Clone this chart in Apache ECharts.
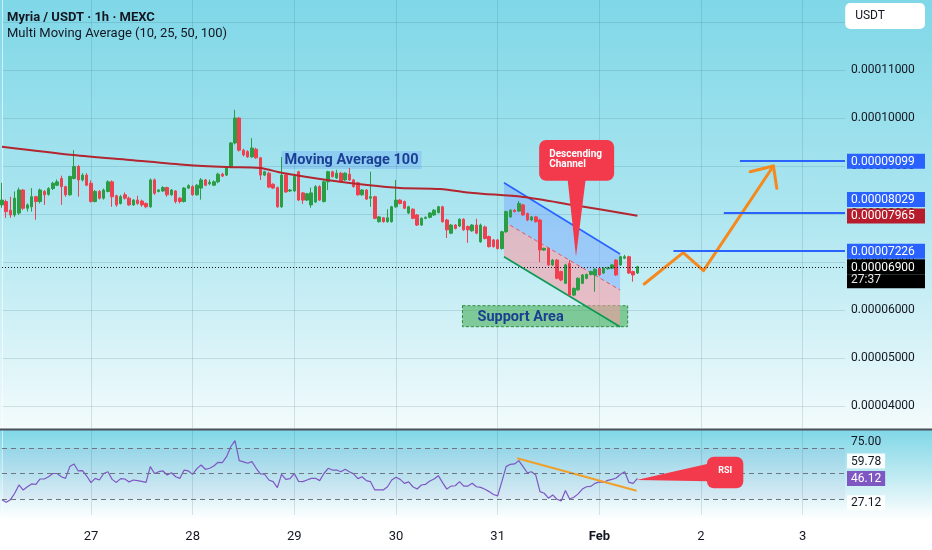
<!DOCTYPE html>
<html>
<head>
<meta charset="utf-8">
<script src="https://cdn.jsdelivr.net/npm/echarts@6/dist/echarts.min.js"></script>
<style>html,body{margin:0;padding:0;background:#fff}#chart{width:932px;height:550px}</style>
</head>
<body>
<div id="chart"></div>
<script>
// ---- categories / ticks ----
const slotCount = 200;                       // hourly slots, slot 0 = Jan 26 03:00
const dayStartIdx = [21, 45, 69, 93, 117, 141, 165, 189];
const dayLabels = ['27', '28', '29', '30', '31', 'Feb', '2', '3'];
const priceGridTicks = [4, 5, 6, 7, 8, 9, 10, 11, 12];   // ×1e-5 USDT
const priceLabelTicks = [4, 5, 6, 7, 8, 9, 10, 11];
const rsiLabelTicks = [75];
const rsiBands = [70, 50, 30];

// ---- candles (price ×1e-5) ----
const open = [8.19,8.26,8.08,7.98,8.02,8.50,8.12,8.15,8.36,8.26,8.47,8.41,8.53,8.60,8.74,8.57,8.40,8.74,8.99,8.71,
8.81,8.64,8.26,8.47,8.33,8.47,8.67,8.38,8.22,8.40,8.33,8.19,8.29,8.27,8.22,8.15,8.71,8.47,8.48,8.55,
8.40,8.48,8.33,8.26,8.54,8.57,8.40,8.54,8.71,8.63,8.60,8.67,8.83,8.81,8.98,9.48,10.00,9.33,9.30,9.19,
9.35,9.17,8.81,8.85,8.62,8.55,8.15,8.81,8.48,8.48,8.88,8.44,8.29,8.19,8.25,8.57,8.26,8.67,8.88,8.75,
8.85,8.71,8.83,8.71,8.65,8.40,8.50,8.33,8.36,7.84,7.92,7.84,7.84,8.15,8.29,8.26,8.02,8.10,7.98,7.77,
7.91,7.93,7.98,8.03,8.15,7.875,7.60,7.77,7.75,7.89,7.74,7.65,7.77,7.42,7.73,7.53,7.46,7.46,7.28,7.63,
7.94,8.08,8.06,8.19,8.01,7.875,7.94,7.875,7.25,7.285,6.94,7.04,6.80,6.556,6.97,6.31,6.42,6.556,6.66,6.74,
6.73,6.87,6.77,6.86,6.87,7.04,6.94,7.08,7.11,6.80,6.77];
const close = [8.29,8.05,7.98,8.33,8.50,8.12,8.19,8.36,8.26,8.50,8.40,8.53,8.64,8.67,8.57,8.40,8.78,8.99,8.71,8.81,
8.60,8.26,8.47,8.33,8.50,8.67,8.36,8.19,8.36,8.33,8.19,8.29,8.22,8.19,8.15,8.71,8.43,8.50,8.55,8.40,
8.50,8.26,8.26,8.54,8.59,8.40,8.60,8.71,8.60,8.66,8.67,8.83,8.79,8.98,9.48,10.00,9.33,9.23,9.19,9.375,
9.17,8.81,8.88,8.56,8.54,8.15,8.81,8.46,8.50,8.78,8.29,8.29,8.42,8.44,8.57,8.29,8.67,8.88,8.78,8.85,
8.67,8.85,8.71,8.57,8.40,8.50,8.31,8.36,7.91,7.94,7.84,7.92,8.15,8.29,8.22,8.12,8.15,7.91,7.77,7.91,
7.93,8.02,8.08,8.15,7.84,7.67,7.77,7.70,7.89,7.67,7.67,7.77,7.60,7.77,7.49,7.32,7.32,7.28,7.63,8.05,
8.08,8.05,8.22,7.98,7.875,7.94,7.84,7.25,7.285,6.94,7.04,6.66,6.625,6.94,6.31,6.45,6.66,6.73,6.74,6.80,
6.85,6.73,6.87,6.88,6.94,6.73,7.11,7.11,6.77,6.73,6.90];
const low = [8.13,7.92,7.92,7.94,7.98,8.08,8.05,8.05,7.88,8.22,8.19,8.38,8.50,8.58,8.19,8.36,8.38,8.72,8.36,8.68,
8.58,8.24,8.24,8.30,8.30,8.45,8.15,8.15,8.20,8.30,8.17,8.17,8.19,8.15,8.12,8.13,8.40,8.45,8.46,8.36,
8.38,8.22,8.22,8.24,8.52,8.38,8.38,8.30,8.58,8.60,8.58,8.64,8.77,8.79,8.96,9.45,9.30,9.20,9.17,9.17,
9.15,8.71,8.79,8.54,8.52,8.13,8.13,8.44,8.46,8.46,8.27,8.21,8.27,8.13,8.23,8.27,8.24,8.50,8.76,8.73,
8.65,8.69,8.69,8.55,8.38,8.38,8.29,8.15,7.89,7.82,7.82,7.82,7.82,8.13,8.20,8.10,8.00,7.89,7.75,7.75,
7.89,7.91,7.96,8.01,7.82,7.50,7.58,7.68,7.73,7.65,7.40,7.63,7.58,7.40,7.47,7.30,7.30,7.26,7.26,7.61,
7.92,8.03,8.04,7.96,7.85,7.85,7.82,7.00,7.23,6.92,6.92,6.64,6.60,6.54,6.29,6.29,6.40,6.54,6.64,6.72,
6.38,6.71,6.75,6.84,6.85,6.71,6.92,7.06,6.75,6.59,6.75];
const high = [8.65,8.30,8.36,8.47,8.55,8.52,8.22,8.54,8.38,8.53,8.50,8.56,8.67,8.72,8.80,8.59,8.80,9.33,9.02,8.85,
8.85,8.70,8.50,8.50,8.53,8.70,8.70,8.40,8.40,8.45,8.36,8.31,8.38,8.30,8.24,8.74,8.74,8.52,8.58,8.57,
8.52,8.50,8.35,8.56,8.62,8.60,8.62,8.75,8.73,8.72,8.70,8.86,8.86,9.00,9.50,10.17,10.02,9.36,9.33,9.58,
9.38,9.19,8.90,8.88,8.64,8.57,9.19,8.83,8.52,8.80,8.90,8.46,8.44,8.55,8.60,8.60,8.70,8.90,8.90,8.92,
8.88,8.87,8.96,8.73,8.67,8.52,8.52,8.88,8.38,7.96,7.94,8.10,8.17,8.71,8.31,8.28,8.17,8.12,8.00,7.93,
7.95,8.04,8.10,8.17,8.17,7.90,7.79,7.79,7.91,7.91,7.76,7.79,7.90,7.80,7.76,7.55,7.48,7.48,7.65,8.07,
8.10,8.10,8.27,8.21,8.03,7.96,7.96,7.90,7.30,7.30,7.06,7.06,6.82,6.96,7.04,6.47,6.68,6.75,6.76,6.82,
6.87,6.89,6.89,6.90,6.96,7.06,7.13,7.15,7.13,6.82,6.92];

// ---- RSI (14) ----
const rsi = [29.5,27.4,29.5,34.5,41,37,39.6,41.8,41.5,45.7,
45.7,47.5,50,50,47.5,46.2,55.4,57.5,52,52.2,
48,42.8,46.2,44.9,50,51.4,45.4,43,46,45.7,
43.4,44.9,44.4,43.8,43,55.4,50,51.4,52,48.8,
50.6,47.5,46.2,52.7,52,49.3,53.8,56.7,53.3,54.1,
55.9,58.8,58.6,63.2,71,75.8,60.1,59.1,58,59.3,
54.1,49.7,49.4,44.9,43.6,38.9,49.4,45.4,46,50,
43.8,43.6,44.9,46.2,46.2,44.4,50,54.1,52.7,52.7,
51.4,53.3,51.4,49.7,46,47.5,44.4,43.6,37.1,37.1,
37.1,39.6,44.9,47,45.4,42.3,43.4,39.6,37.8,41,
41.5,44.1,45.7,48.3,42.8,37.8,40.1,40.4,43.6,40.1,
40.1,42.3,39.6,39.1,37.6,35.8,33.5,32.4,43.6,55.4,
57.2,57.5,60.1,55.4,50.6,51.4,48.8,35.8,34.5,30.6,
33.2,29.8,28.5,36.6,30,31.4,34,37.8,39.6,39.9,
42.3,43.4,43,44.6,45.4,46.5,49.4,51.4,43,42.3,
46.1];
const rsiSideLabels = [59.78, 27.12];
const rsiCurrent = 46.12;

// ---- MA 100 (read points: slot, price) ----
const ma100X = [0, 16.8, 30.2, 43.7, 53.1, 60.9, 66.3, 76.7, 86.2, 94, 103.4, 111.2, 123, 134.8, 150];
const ma100Y = [9.402, 9.229, 9.125, 9.021, 8.979, 8.958, 8.854, 8.708, 8.604, 8.542, 8.521, 8.4375, 8.354, 8.188, 7.965];
const ma100Last = 7.965;
const lastPrice = 6.9;

// ---- drawings ----
const targetLevels = [9.099, 8.029, 7.226];
const targetStartX = [174.2, 170.4, 158.5];
const channelX = [118.5, 145.9];
const channelUpper = [8.652, 7.167];
const channelMid = [7.84, 6.417];
const channelLower = [7.11, 5.652];
const supportX = [108.7, 147.7];
const supportY = [6.09, 5.652];
const pathX = [151.6, 160.8, 165.6, 182.1];
const pathY = [6.542, 7.194, 6.819, 9.0];
const headX = [176.6, 182.1, 182.9];
const headY = [8.881, 9.0, 8.535];
const rsiTrendX = [121.6, 149.8];
const rsiTrendY = [61.9, 36.5];
const calloutBoxX = [126.8, 144.5], calloutBoxY = [9.542, 8.694];
const calloutTip = [135.5, 7.11], calloutBaseX = [133.5, 137.8];
const rsiBoxX = [166.4, 175], rsiBoxY = [63.2, 38.4];
const rsiTip = [149.8, 44.9];

const FONT = 'Roboto, "Noto Sans", sans-serif';
const UP = '#2a9d45', DOWN = '#ef4050';
const GRIDC = 'rgba(45,100,120,0.17)';
const NOLINE = {color: 'rgba(0,0,0,0)', width: 0};
const fmtPrice = v => (v / 1e5).toFixed(8);
const categories = Array.from({length: slotCount}, (_, i) => String(i));
const dayMap = {};
dayStartIdx.forEach((d, k) => dayMap[d] = dayLabels[k]);

function priceLabel(text, bg, fg, shiftUp, width) {
  const a = {backgroundColor: bg, color: fg, padding: [2, 4, 1, 4], fontSize: 12, lineHeight: 16, fontFamily: FONT};
  if (width) a.width = width;
  return {
    show: true, position: 'end', distance: 2,
    formatter: shiftUp ? '{a|' + text + '}\n{e| }' : '{a|' + text + '}',
    rich: {a: a, e: {lineHeight: 26, fontSize: 6}}
  };
}

const chart = echarts.init(document.getElementById('chart'));
const option = {
  animation: false,
  backgroundColor: '#ffffff',
  textStyle: {fontFamily: FONT},
  graphic: [
    {type: 'rect', silent: true, z: -10, shape: {x: 0, y: 0, width: 932, height: 429},
      style: {fill: {type: 'linear', x: 0, y: 0, x2: 0, y2: 1, colorStops: [
        {offset: 0, color: '#7fd7e7'}, {offset: 0.5, color: '#ade6f0'}, {offset: 1, color: '#f3fbfc'}]}}},
    {type: 'rect', silent: true, z: -10, shape: {x: 0, y: 430, width: 932, height: 90},
      style: {fill: {type: 'linear', x: 0, y: 0, x2: 0, y2: 1, colorStops: [
        {offset: 0, color: '#80d7e7'}, {offset: 0.55, color: '#c4ecf3'}, {offset: 1, color: '#ffffff'}]}}},
    {type: 'line', silent: true, z: 100, shape: {x1: 0, y1: 429.5, x2: 932, y2: 429.5},
      style: {stroke: '#4a4f5a', lineWidth: 2}}
  ],
  title: [
    {text: 'Myria / USDT · 1h · MEXC', subtext: 'Multi Moving Average (10, 25, 50, 100)',
      left: 2, top: 6, itemGap: 3,
      textStyle: {fontSize: 13, fontWeight: 'bold', color: '#131722', fontFamily: FONT},
      subtextStyle: {fontSize: 13, color: '#131722', fontFamily: FONT}},
    {text: 'USDT', right: 7, top: 3, backgroundColor: '#ffffff', borderRadius: 5, padding: [7, 40, 7, 10],
      textStyle: {fontSize: 12, fontWeight: 'normal', color: '#131722', fontFamily: FONT}}
  ],
  grid: [
    {left: 2, right: 87, top: 0, bottom: 122},
    {left: 2, right: 87, top: 430, bottom: 35}
  ],
  xAxis: [
    {type: 'category', gridIndex: 0, data: categories, boundaryGap: false,
      axisLine: {show: false}, axisTick: {show: false}, axisLabel: {show: false},
      splitLine: {show: true, interval: i => dayMap[i] !== undefined, lineStyle: {color: GRIDC}}},
    {type: 'value', gridIndex: 0, min: 0, max: slotCount - 1, show: false},
    {type: 'category', gridIndex: 1, data: categories, boundaryGap: false,
      axisLine: {show: false}, axisTick: {show: false},
      axisLabel: {interval: i => dayMap[i] !== undefined, margin: 15, fontSize: 13, color: '#131722',
        formatter: (v, i) => dayMap[i] === 'Feb' ? '{b|Feb}' : (dayMap[i] || ''),
        rich: {b: {fontWeight: 'bold', fontSize: 13, color: '#131722'}}},
      splitLine: {show: true, interval: i => dayMap[i] !== undefined, lineStyle: {color: GRIDC}}},
    {type: 'value', gridIndex: 1, min: 0, max: slotCount - 1, show: false}
  ],
  yAxis: [
    {type: 'value', gridIndex: 0, position: 'right', min: 4 - 22 / 48, max: 4 + 406 / 48,
      axisLine: {show: true, lineStyle: {color: 'rgba(255,255,255,0.6)'}},
      axisTick: {show: false, customValues: priceGridTicks},
      axisLabel: {customValues: priceLabelTicks, formatter: fmtPrice, color: '#131722', fontSize: 12, margin: 6},
      splitLine: {show: true, lineStyle: {color: GRIDC}}},
    {type: 'value', gridIndex: 1, position: 'right', min: 30 - 16 / 1.275, max: 70 + 18 / 1.275,
      axisLine: {show: true, lineStyle: {color: 'rgba(255,255,255,0.6)'}},
      axisTick: {show: false, customValues: rsiLabelTicks},
      axisLabel: {customValues: rsiLabelTicks, formatter: v => v.toFixed(2), color: '#131722', fontSize: 12, margin: 6},
      splitLine: {show: false}}
  ],
  series: [
    {type: 'custom', name: 'support', xAxisIndex: 1, yAxisIndex: 0, z: 1, silent: true, clip: false,
      data: [[0, 0]],
      renderItem: (params, api) => {
        const a = api.coord([supportX[0], supportY[0]]), b = api.coord([supportX[1], supportY[1]]);
        return {type: 'group', children: [
          {type: 'rect', shape: {x: a[0], y: a[1], width: b[0] - a[0], height: b[1] - a[1]},
            style: {fill: 'rgba(60,170,75,0.55)', stroke: '#2e8b3e', lineWidth: 1, lineDash: [3, 2]}},
          {type: 'text', x: a[0] + 15, y: (a[1] + b[1]) / 2 + 1,
            style: {text: 'Support Area', fill: '#1b3f91', fontSize: 14.5, fontWeight: 'bold', fontFamily: FONT,
              align: 'left', verticalAlign: 'middle'}}
        ]};
      }},
    {type: 'custom', name: 'channel', xAxisIndex: 1, yAxisIndex: 0, z: 1, silent: true, clip: false,
      data: [[0, 0]],
      renderItem: (params, api) => {
        const P = (x, y) => api.coord([x, y]);
        const u0 = P(channelX[0], channelUpper[0]), u1 = P(channelX[1], channelUpper[1]);
        const m0 = P(channelX[0], channelMid[0]), m1 = P(channelX[1], channelMid[1]);
        const l0 = P(channelX[0], channelLower[0]), l1 = P(channelX[1], channelLower[1]);
        return {type: 'group', children: [
          {type: 'polygon', shape: {points: [u0, u1, m1, m0]}, style: {fill: 'rgba(120,165,255,0.45)'}},
          {type: 'polygon', shape: {points: [m0, m1, l1, l0]}, style: {fill: 'rgba(255,150,160,0.55)'}},
          {type: 'line', shape: {x1: u0[0], y1: u0[1], x2: u1[0], y2: u1[1]}, style: {stroke: '#2962ff', lineWidth: 1.6}},
          {type: 'line', shape: {x1: m0[0], y1: m0[1], x2: m1[0], y2: m1[1]}, style: {stroke: '#e0566a', lineWidth: 1, lineDash: [4, 3]}},
          {type: 'line', shape: {x1: l0[0], y1: l0[1], x2: l1[0], y2: l1[1]}, style: {stroke: '#0a9a55', lineWidth: 1.6}}
        ]};
      }},
    {type: 'candlestick', name: 'Myria', xAxisIndex: 0, yAxisIndex: 0, z: 2, barWidth: 3,
      data: open.map((o, i) => [o, close[i], low[i], high[i]]),
      itemStyle: {color: UP, color0: DOWN, borderColor: UP, borderColor0: DOWN, borderWidth: 1},
      markLine: {silent: true, symbol: ['none', 'none'],
        data: [{yAxis: lastPrice,
          lineStyle: {type: [1, 2], color: '#131722', width: 1},
          label: {show: true, position: 'end', distance: 2,
            formatter: '{e| }\n{a|' + fmtPrice(lastPrice) + '}\n{b|27:37}',
            rich: {
              e: {lineHeight: 14, fontSize: 6},
              a: {backgroundColor: '#000', color: '#fff', padding: [3, 4, 0, 4], fontSize: 12, lineHeight: 15, width: 70, fontFamily: FONT},
              b: {backgroundColor: '#000', color: '#e6e6e6', padding: [0, 4, 2, 4], fontSize: 12, lineHeight: 14, width: 70, fontFamily: FONT}
            }}}]}},
    {type: 'line', name: 'MA100', xAxisIndex: 1, yAxisIndex: 0, z: 3, smooth: 0.3, showSymbol: false, silent: true,
      data: ma100X.map((x, i) => [x, ma100Y[i]]),
      lineStyle: {color: '#b3262f', width: 2},
      markLine: {silent: true, symbol: ['none', 'none'],
        data: [{yAxis: ma100Last, lineStyle: NOLINE,
          label: priceLabel(fmtPrice(ma100Last), '#b71c2c', '#ffffff', false, 70)}]},
      markPoint: {silent: true,
        data: [{coord: [82.5, 9.125], symbol: 'rect', symbolSize: 1, itemStyle: {color: 'rgba(0,0,0,0)'},
          label: {show: true, position: 'inside', formatter: 'Moving Average 100', color: '#1c3f96', fontSize: 14.5,
            fontWeight: 'bold', backgroundColor: 'rgba(41,98,255,0.16)', padding: [2, 3, 1, 3], fontFamily: FONT}}]}},
    {type: 'line', name: 'path', xAxisIndex: 1, yAxisIndex: 0, z: 4, showSymbol: false, silent: true,
      data: pathX.map((x, i) => [x, pathY[i]]),
      lineStyle: {color: '#f5891e', width: 3, cap: 'round', join: 'round'},
      markLine: {silent: true, symbol: ['none', 'none'],
        lineStyle: {color: '#2962ff', width: 2, type: 'solid'},
        data: targetLevels.map((v, k) => [
          {coord: [targetStartX[k], v], label: priceLabel(fmtPrice(v), '#2962ff', '#ffffff', k === 1, 70)},
          {coord: [slotCount - 1, v]}])}},
    {type: 'line', name: 'head', xAxisIndex: 1, yAxisIndex: 0, z: 4, showSymbol: false, silent: true,
      data: headX.map((x, i) => [x, headY[i]]),
      lineStyle: {color: '#f5891e', width: 3, cap: 'round', join: 'round'}},
    {type: 'custom', name: 'callout', xAxisIndex: 1, yAxisIndex: 0, z: 6, silent: true, clip: false,
      data: [[0, 0]],
      renderItem: (params, api) => {
        const a = api.coord([calloutBoxX[0], calloutBoxY[0]]), b = api.coord([calloutBoxX[1], calloutBoxY[1]]);
        const p1 = api.coord([calloutBaseX[0], calloutBoxY[1]]), p2 = api.coord([calloutBaseX[1], calloutBoxY[1]]);
        const t = api.coord(calloutTip);
        return {type: 'group', children: [
          {type: 'rect', shape: {x: a[0], y: a[1], width: b[0] - a[0], height: b[1] - a[1], r: 7}, style: {fill: '#f23a4c'}},
          {type: 'polygon', shape: {points: [[p1[0], p1[1] - 2], [p2[0], p2[1] - 2], t]}, style: {fill: '#f23a4c'}},
          {type: 'text', x: a[0] + 10, y: (a[1] + b[1]) / 2 - 1,
            style: {text: 'Descending\nChannel', fill: '#ffffff', fontSize: 10, fontWeight: 'bold', lineHeight: 10,
              fontFamily: FONT, align: 'left', verticalAlign: 'middle'}}
        ]};
      }},
    {type: 'line', name: 'RSI', xAxisIndex: 2, yAxisIndex: 1, z: 3, showSymbol: false, silent: true,
      data: rsi, lineStyle: {color: '#7e57c2', width: 1.2},
      markArea: {silent: true, itemStyle: {color: 'rgba(126,87,194,0.06)'},
        data: [[{yAxis: rsiBands[2]}, {yAxis: rsiBands[0]}]]},
      markLine: {silent: true, symbol: ['none', 'none'],
        data: rsiBands.map(v => ({yAxis: v, lineStyle: {type: [5, 4], color: '#6f7480', width: 1}, label: {show: false}}))
          .concat(rsiSideLabels.map(v => ({yAxis: v, lineStyle: NOLINE,
            label: priceLabel(v.toFixed(2), 'rgba(255,255,255,0.92)', '#131722', false)})))
          .concat([{yAxis: rsiCurrent, lineStyle: NOLINE,
            label: priceLabel(rsiCurrent.toFixed(2), '#7e57c2', '#ffffff', false)}])}},
    {type: 'line', name: 'rsiTrend', xAxisIndex: 3, yAxisIndex: 1, z: 4, showSymbol: false, silent: true,
      data: rsiTrendX.map((x, i) => [x, rsiTrendY[i]]),
      lineStyle: {color: '#f0a02a', width: 2}},
    {type: 'custom', name: 'rsiCallout', xAxisIndex: 3, yAxisIndex: 1, z: 6, silent: true, clip: false,
      data: [[0, 0]],
      renderItem: (params, api) => {
        const a = api.coord([rsiBoxX[0], rsiBoxY[0]]), b = api.coord([rsiBoxX[1], rsiBoxY[1]]);
        const t = api.coord(rsiTip);
        const w1 = api.coord([rsiBoxX[0] + 0.8, 58]), w2 = api.coord([rsiBoxX[0] + 0.5, 44]);
        return {type: 'group', children: [
          {type: 'rect', shape: {x: a[0], y: a[1], width: b[0] - a[0], height: b[1] - a[1], r: 7}, style: {fill: '#f23a4c'}},
          {type: 'polygon', shape: {points: [t, w1, w2]}, style: {fill: '#f23a4c'}},
          {type: 'text', x: (a[0] + b[0]) / 2, y: (a[1] + b[1]) / 2 - 2,
            style: {text: 'RSI', fill: '#ffffff', fontSize: 9, fontWeight: 'bold', fontFamily: FONT,
              align: 'center', verticalAlign: 'middle'}}
        ]};
      }}
  ]
};
chart.setOption(option);
</script>
</body>
</html>
